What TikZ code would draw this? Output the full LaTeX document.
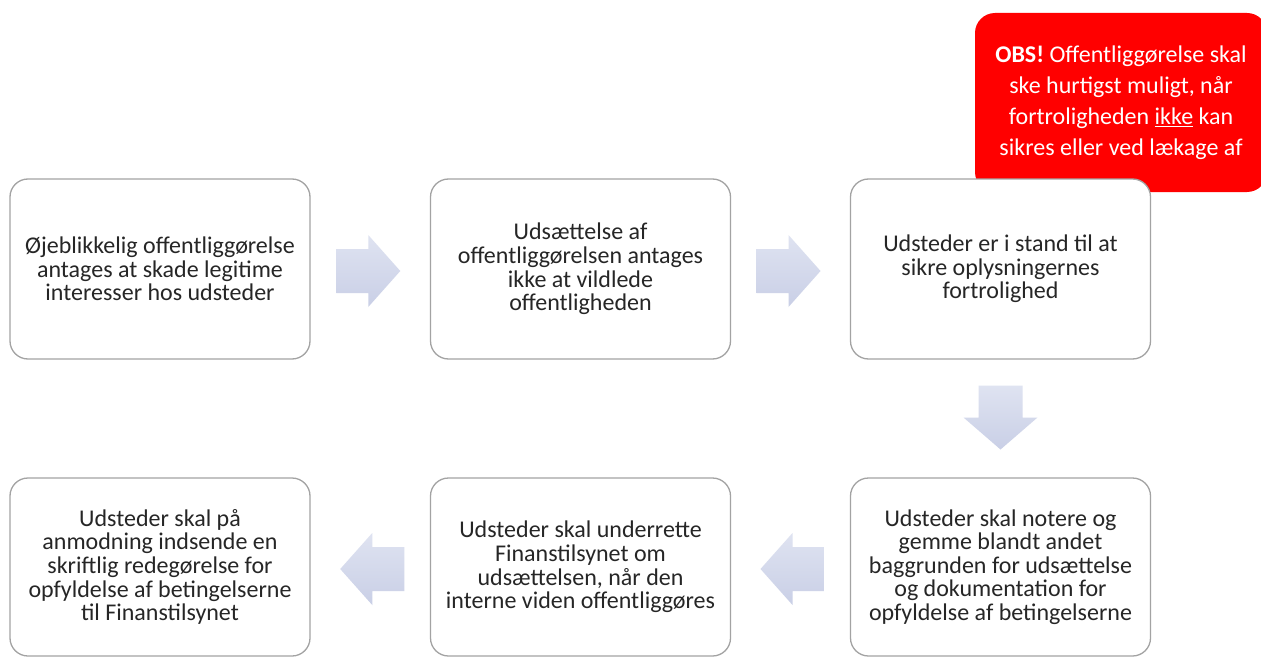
\documentclass[tikz,border=0pt]{standalone}
\usepackage{fontspec}
\setmainfont{Carlito}
\usetikzlibrary{calc}
\definecolor{boxline}{HTML}{A3A3A3}
\definecolor{arrtop}{HTML}{DFE3F1}
\definecolor{arrbot}{HTML}{C9CFE6}
\definecolor{obsred}{HTML}{FF0000}
\tikzset{
  stepbox/.style={draw=boxline, line width=1.3pt, fill=white, rounded corners=18pt,
    minimum width=300pt, minimum height=180pt, inner sep=0pt, align=center,
    font=\fontsize{24}{23.6}\selectfont, text=black!85},
  obsbox/.style={fill=obsred, rounded corners=20pt, minimum width=292pt, minimum height=179pt,
    inner sep=0pt, align=center, text=white, font=\fontsize{24}{31}\selectfont},
  arrowfill/.style={top color=arrtop, bottom color=arrbot, draw=none},
  pics/rarrow/.style={code={\path[arrowfill] (-32,-22) -- (0,-22) -- (0,-36) -- (32,0) -- (0,36) -- (0,22) -- (-32,22) -- cycle;}},
  pics/larrow/.style={code={\path[arrowfill] (32,-22) -- (0,-22) -- (0,-36) -- (-32,0) -- (0,36) -- (0,22) -- (32,22) -- cycle;}},
  pics/darrow/.style={code={\path[arrowfill] (-22,-32) -- (22,-32) -- (22,0) -- (37,0) -- (0,32) -- (-37,0) -- (-22,0) -- cycle;}},
}
\begin{document}
\begin{tikzpicture}[x=1pt,y=-1pt]
\useasboundingbox[fill=white] (0,0) rectangle (1261,658);
\node[obsbox] (obs) at (1121,102.5) {\textbf{OBS!} Offentliggørelse skal\\ske hurtigst muligt, når\\fortroligheden \underline{ikke} kan\\sikres eller ved lækage af};
\node[stepbox] (b1) at (160,269) {Øjeblikkelig offentliggørelse\\antages at skade legitime\\interesser hos udsteder};
\node[stepbox] (b2) at (580.5,269) {Udsættelse af\\offentliggørelsen antages\\ikke at vildlede\\offentligheden};
\node[stepbox] (b3) at (1000.5,269) {Udsteder er i stand til at\\sikre oplysningernes\\fortrolighed};
\node[stepbox, minimum height=178pt] (b4) at (1000.5,567) {Udsteder skal notere og\\gemme blandt andet\\baggrunden for udsættelse\\og dokumentation for\\opfyldelse af betingelserne};
\node[stepbox, minimum height=178pt] (b5) at (580.5,567) {Udsteder skal underrette\\Finanstilsynet om\\udsættelsen, når den\\interne viden offentliggøres};
\node[stepbox, minimum height=178pt] (b6) at (160,567) {Udsteder skal på\\anmodning indsende en\\skriftlig redegørelse for\\opfyldelse af betingelserne\\til Finanstilsynet};
\pic at ($(b1.east)!0.5!(b2.west)+(-2,2)$) {rarrow};
\pic at ($(b2.east)!0.5!(b3.west)+(-2,2)$) {rarrow};
\pic at ($(b3.south)!0.5!(b4.north)+(0,-1)$) {darrow};
\pic at ($(b5.east)!0.5!(b4.west)+(2,2)$) {larrow};
\pic at ($(b6.east)!0.5!(b5.west)+(2,2)$) {larrow};
\end{tikzpicture}
\end{document}
